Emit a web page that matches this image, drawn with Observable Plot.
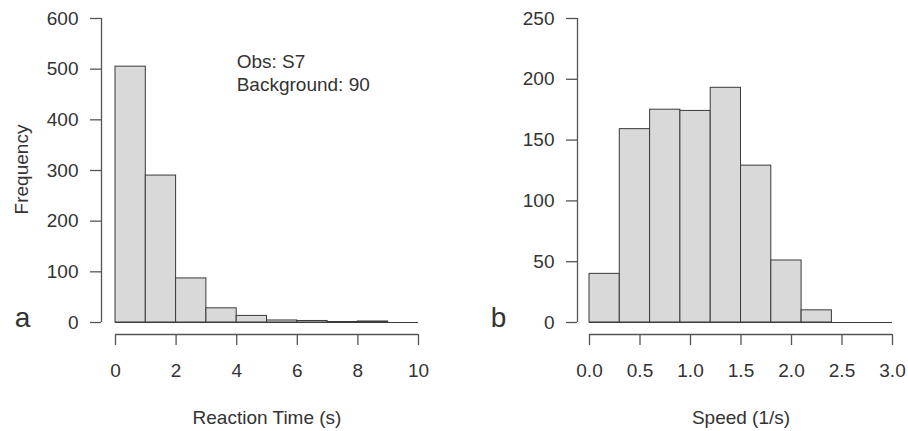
<!DOCTYPE html>
<html>
<head>
<meta charset="utf-8">
<script src="https://cdn.jsdelivr.net/npm/d3@7"></script>
<script src="https://cdn.jsdelivr.net/npm/@observablehq/plot@0.6"></script>
<style>
  html, body { margin: 0; padding: 0; background: #fff; }
  #wrap { display: flex; width: 908px; height: 431px; }
</style>
</head>
<body>
<div id="wrap"></div>
<script>
// ---- Data ----
const rtEdges = [0, 1, 2, 3, 4, 5, 6, 7, 8, 9, 10];
const rtCounts = [505, 290, 87, 28, 13, 4, 3, 1, 2, 0];
const rtTicks = [0, 2, 4, 6, 8, 10];
const rtFreqTicks = [0, 100, 200, 300, 400, 500, 600];

const spEdges = [0, 0.3, 0.6, 0.9, 1.2, 1.5, 1.8, 2.1, 2.4, 2.7, 3.0];
const spCounts = [40, 159, 175, 174, 193, 129, 51, 10, 0, 0];
const spTicks = [0, 0.5, 1.0, 1.5, 2.0, 2.5, 3.0];
const spFreqTicks = [0, 50, 100, 150, 200, 250];

const annotationLines = ["Obs: S7", "Background: 90"];
const annotationAt = {x: 4, y: 535};

const FONT = "'Liberation Sans', Arial, Helvetica, sans-serif";
const FS = 19;
const TEXT = "#333";
const AXIS = "#555";
const FILL = "#d9d9d9";
const EDGE = "#3a3a3a";

function hist({edges, counts, xTicks, yTicks, xFormat, xLabel, yLabel, letter,
               marginLeft, marginRight, insetLeft, annotation}) {
  const bins = counts.map((c, i) => ({x1: edges[i], x2: edges[i + 1], y: c}));
  const xDom = [edges[0], edges[edges.length - 1]];
  const yDom = [yTicks[0], yTicks[yTicks.length - 1]];
  const marks = [
    Plot.rectY(bins, {x1: "x1", x2: "x2", y1: 0, y2: "y", fill: FILL, stroke: EDGE, strokeWidth: 1}),
    Plot.ruleY([0], {x1: xDom[0], x2: xDom[1], stroke: EDGE, strokeWidth: 1}),
    // y axis line (offset from data like R)
    Plot.ruleX([xDom[0]], {y1: yDom[0], y2: yDom[1], dx: -insetLeft, stroke: AXIS, strokeWidth: 1.3}),
    // x axis line
    Plot.ruleY([0], {x1: xDom[0], x2: xDom[1], dy: 12, stroke: AXIS, strokeWidth: 1.3}),
    Plot.axisY({ticks: yTicks, tickSize: 11, tickPadding: 12, stroke: AXIS, strokeWidth: 1.3,
                fill: TEXT, label: null, fontSize: FS}),
    Plot.axisX({ticks: xTicks, tickSize: 11, tickPadding: 18, stroke: AXIS, strokeWidth: 1.3,
                fill: TEXT, label: null, tickFormat: xFormat, fontSize: FS}),
    Plot.text([xLabel], {x: (xDom[0] + xDom[1]) / 2, frameAnchor: "bottom", dy: 83,
                         textAnchor: "middle", fill: TEXT, fontSize: FS, lineAnchor: "middle"}),
    Plot.text([letter], {frameAnchor: "bottom-left", dx: -79, dy: -8, textAnchor: "middle",
                         fill: TEXT, fontSize: 28}),
  ];
  if (yLabel) {
    marks.push(Plot.text([yLabel], {frameAnchor: "left", rotate: -90, dx: -80, dy: -7,
                                    textAnchor: "middle", fill: TEXT, fontSize: FS}));
  }
  if (annotation) {
    marks.push(Plot.text([annotation.lines.join("\n")], {x: annotation.x, y: annotation.y,
      textAnchor: "start", lineAnchor: "top", lineHeight: 1.21, fill: TEXT, fontSize: FS}));
  }
  return Plot.plot({
    width: 454, height: 431,
    marginLeft, marginRight, marginTop: 18, marginBottom: 97,
    x: {domain: xDom, insetLeft},
    y: {domain: yDom, insetBottom: 12},
    style: {fontFamily: FONT, fontSize: FS + "px", color: TEXT, background: "#fff"},
    marks
  });
}

const wrap = document.getElementById("wrap");
wrap.appendChild(hist({
  edges: rtEdges, counts: rtCounts, xTicks: rtTicks, yTicks: rtFreqTicks,
  xFormat: d3.format("d"), xLabel: "Reaction Time (s)", yLabel: "Frequency", letter: "a",
  marginLeft: 101, marginRight: 36, insetLeft: 14,
  annotation: {lines: annotationLines, x: annotationAt.x, y: annotationAt.y}
}));
wrap.appendChild(hist({
  edges: spEdges, counts: spCounts, xTicks: spTicks, yTicks: spFreqTicks,
  xFormat: d3.format(".1f"), xLabel: "Speed (1/s)", yLabel: null, letter: "b",
  marginLeft: 123, marginRight: 16, insetLeft: 12, annotation: null
}));
</script>
</body>
</html>
